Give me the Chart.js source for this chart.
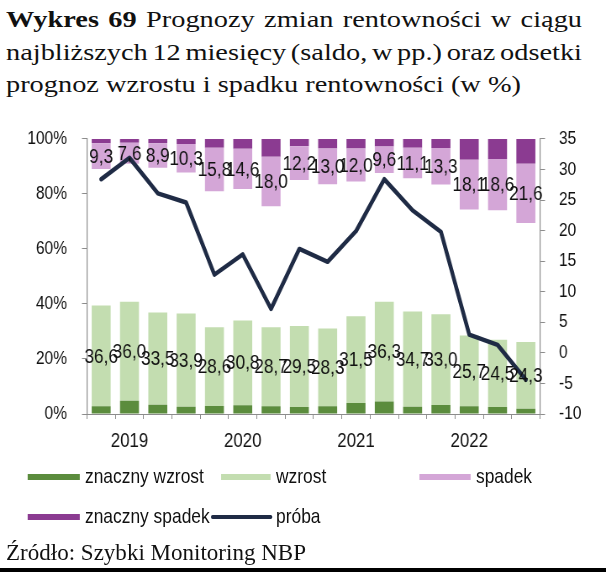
<!DOCTYPE html>
<html>
<head>
<meta charset="utf-8">
<script src="https://cdn.jsdelivr.net/npm/chart.js@4.4.1/dist/chart.umd.min.js"></script>
<style>
  html, body { margin: 0; padding: 0; background: #fff; }
  body { width: 606px; height: 577px; position: relative; overflow: hidden; }
  .serif { position: absolute; left: 6px; font-family: 'Liberation Serif', 'Times New Roman', serif; font-size: 24px; color: #111; transform-origin: 0 0; line-height: 32px; white-space: nowrap; }
  #stage { position: absolute; left: 0; top: 0; width: 721px; height: 577px; transform-origin: 0 0; }
  #chartWrap { position: absolute; left: 0; top: 110px; width: 721px; height: 350px; }
  .lg { position: absolute; font-family: 'Liberation Sans', Arial, sans-serif; font-size: 20.7px; color: #111; line-height: 22px; white-space: nowrap; }
  .sw { position: absolute; }
  #band { position: absolute; left: 0; top: 568px; width: 606px; height: 4px; background: #000; }
</style>
</head>
<body>
<div id="t1" class="serif"><b>Wykres 69</b> Prognozy zmian rentowności w ciągu</div>
<div id="t2" class="serif">najbliższych 12 miesięcy (saldo, w pp.) oraz odsetki</div>
<div id="t3" class="serif">prognoz wzrostu i spadku rentowności (w %)</div>
<div id="stage">
  <div id="chartWrap"><canvas id="c" width="721" height="350"></canvas></div>
  <div id="legend"></div>
</div>
<div id="src" class="serif">Źródło: Szybki Monitoring NBP</div>
<div id="band"></div>
<script>
// ---- data ----
const categories = ['I kw. 2019','II kw. 2019','III kw. 2019','IV kw. 2019',
                    'I kw. 2020','II kw. 2020','III kw. 2020','IV kw. 2020',
                    'I kw. 2021','II kw. 2021','III kw. 2021','IV kw. 2021',
                    'I kw. 2022','II kw. 2022','III kw. 2022','IV kw. 2022'];
const yearTickLabels = ['', '2019', '', '', '', '2020', '', '', '', '2021', '', '', '', '2022', '', ''];
const znacznyWzrost = [2.8, 4.8, 3.4, 2.6, 2.9, 3.2, 2.8, 2.5, 2.8, 4.0, 4.5, 2.6, 3.3, 2.8, 2.5, 1.9];
const wzrost        = [36.6, 36.0, 33.5, 33.9, 28.6, 30.8, 28.7, 29.5, 28.3, 31.5, 36.3, 34.7, 33.0, 25.7, 24.5, 24.3];
const spadek        = [9.3, 7.6, 8.9, 10.3, 15.8, 14.6, 18.0, 12.2, 13.0, 12.0, 9.6, 11.1, 13.3, 18.1, 18.6, 21.6];
const znacznySpadek = [1.6, 1.4, 1.6, 1.9, 3.2, 3.6, 6.5, 2.7, 3.5, 3.5, 2.8, 3.2, 3.3, 7.6, 7.3, 9.0];
const proba         = [28.4, 31.9, 26.1, 24.6, 12.8, 16.1, 7.2, 17.0, 14.9, 19.9, 28.4, 23.3, 19.8, 3.0, 1.3, -4.4];
const leftTicks = { min: 0, max: 100, step: 20 };
const rightTicks = { min: -10, max: 35, step: 5 };

// horizontal compression of the chart stage (the reference is horizontally squeezed)
const STAGE_W = 721;
const K = 606 / STAGE_W;
const sx = x => x / K; // page x -> stage x
document.getElementById('stage').style.transform = 'scaleX(' + K + ')';

// ---- title / source fitting ----
(function fitText() {
  const t3 = document.getElementById('t3');
  const natural3 = t3.getBoundingClientRect().width;
  const s = 515 / natural3;
  const target = 576;
  [['t1', 3], ['t2', 35.5], ['t3', 68]].forEach(([id, top]) => {
    const el = document.getElementById(id);
    el.style.top = top + 'px';
    if (id !== 't3') {
      const w = el.getBoundingClientRect().width;
      const n = (el.textContent.match(/ /g) || []).length;
      el.style.wordSpacing = ((target / s - w) / n) + 'px';
    }
    el.style.transform = 'scaleX(' + s + ')';
  });
  const src = document.getElementById('src');
  const w = src.getBoundingClientRect().width;
  src.style.top = '536px';
  src.style.transform = 'scaleX(' + (300 / w) + ')';
})();

const FONT = "'Liberation Sans', Arial, sans-serif";
const AXIS = '#8c8c8c';
const C = { zw: '#5b8c3d', w: '#c3ddb0', s: '#d4a6d7', zs: '#8b3b91', p: '#1f2b45' };

const fmt = v => v.toFixed(1).replace('.', ',');

const barLabelPlugin = {
  id: 'barLabels',
  afterDatasetsDraw(chart) {
    const ctx = chart.ctx;
    ctx.save();
    ctx.font = '20.5px ' + FONT;
    ctx.fillStyle = '#111';
    ctx.textAlign = 'center';
    ctx.textBaseline = 'middle';
    chart.data.datasets.forEach((ds, di) => {
      if (!ds.labelValues) return;
      const meta = chart.getDatasetMeta(di);
      meta.data.forEach((el, i) => {
        const y = (el.y + el.base) / 2;
        ctx.fillText(fmt(ds.labelValues[i]), el.x, y + 1);
      });
    });
    ctx.restore();
  }
};

const TICK = 6;
const chart = new Chart(document.getElementById('c'), {
  data: {
    labels: categories,
    datasets: [
      { type: 'line', label: 'próba', data: proba, yAxisID: 'y1', borderColor: C.p, backgroundColor: C.p,
        borderWidth: 4.5, pointRadius: 0, tension: 0, borderJoinStyle: 'round', borderCapStyle: 'round', order: 0 },
      { type: 'bar', label: 'znaczny wzrost', data: znacznyWzrost.map(v => [0, v]), backgroundColor: C.zw, yAxisID: 'y', order: 1, grouped: false },
      { type: 'bar', label: 'wzrost', data: wzrost.map((v, i) => [znacznyWzrost[i], znacznyWzrost[i] + v]), backgroundColor: C.w, yAxisID: 'y', order: 1, grouped: false, labelValues: wzrost },
      { type: 'bar', label: 'spadek', data: spadek.map((v, i) => [100 - znacznySpadek[i] - v, 100 - znacznySpadek[i]]), backgroundColor: C.s, yAxisID: 'y', order: 1, grouped: false, labelValues: spadek },
      { type: 'bar', label: 'znaczny spadek', data: znacznySpadek.map(v => [100 - v, 100]), backgroundColor: C.zs, yAxisID: 'y', order: 1, grouped: false }
    ]
  },
  options: {
    responsive: false,
    animation: false,
    devicePixelRatio: 1,
    layout: { padding: { top: 20, left: 0, right: 0, bottom: 0 } },
    datasets: { bar: { categoryPercentage: 1, barPercentage: 0.67 } },
    plugins: { legend: { display: false }, tooltip: { enabled: false } },
    scales: {
      x: {
        offset: true,
        grid: { drawOnChartArea: false, drawTicks: true, tickLength: 5, color: AXIS, offset: true },
        border: { color: AXIS, width: 1 },
        ticks: { autoSkip: false, maxRotation: 0, minRotation: 0, padding: 10, color: '#111',
                 font: { family: FONT, size: 20 }, callback: (v, i) => yearTickLabels[i] },
        afterFit: s => { s.height = 46; }
      },
      y: {
        position: 'left', min: leftTicks.min, max: leftTicks.max,
        grid: { drawOnChartArea: false, drawTicks: true, tickLength: TICK, color: AXIS },
        border: { color: AXIS, width: 1.2 },
        ticks: { stepSize: leftTicks.step, padding: sx(87) - TICK - sx(67), color: '#111', font: { family: FONT, size: 18.5 }, callback: v => v + '%' },
        afterFit: s => { s.width = sx(87); }
      },
      y1: {
        position: 'right', min: rightTicks.min, max: rightTicks.max,
        grid: { drawOnChartArea: false, drawTicks: true, tickLength: TICK, color: AXIS },
        border: { color: AXIS, width: 1.2 },
        ticks: { stepSize: rightTicks.step, padding: sx(559) - sx(540) - TICK, color: '#111', font: { family: FONT, size: 18.5 } },
        afterFit: s => { s.width = STAGE_W - sx(540); }
      }
    }
  },
  plugins: [barLabelPlugin]
});

// ---- legend built from chart datasets (page coordinates converted to stage) ----
(function buildLegend() {
  const slots = {
    'znaczny wzrost': { x0: 28, x1: 80, tx: 85, cy: 477 },
    'wzrost':         { x0: 221, x1: 271, tx: 276, cy: 477 },
    'spadek':         { x0: 419, x1: 471, tx: 476, cy: 477 },
    'znaczny spadek': { x0: 28, x1: 80, tx: 85, cy: 517 },
    'próba':          { x0: 211, x1: 272, tx: 276, cy: 517 }
  };
  const lg = document.getElementById('legend');
  chart.data.datasets.forEach(ds => {
    const p = slots[ds.label];
    const isLine = ds.type === 'line';
    const sw = document.createElement('div');
    sw.className = 'sw';
    const h = isLine ? 4 : 6;
    sw.style.left = sx(p.x0) + 'px';
    sw.style.width = (sx(p.x1) - sx(p.x0)) + 'px';
    sw.style.top = (p.cy - h / 2) + 'px';
    sw.style.height = h + 'px';
    sw.style.background = isLine ? ds.borderColor : ds.backgroundColor;
    if (isLine) sw.style.borderRadius = '2px';
    lg.appendChild(sw);
    const tx = document.createElement('div');
    tx.className = 'lg';
    tx.textContent = ds.label;
    tx.style.left = sx(p.tx) + 'px';
    tx.style.top = (p.cy - 12) + 'px';
    lg.appendChild(tx);
  });
})();
</script>
</body>
</html>
